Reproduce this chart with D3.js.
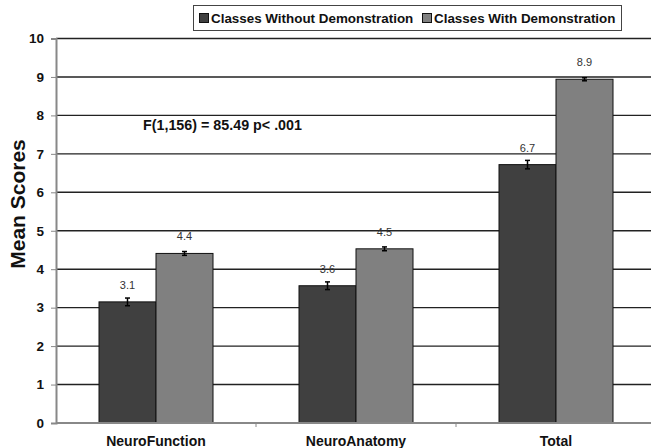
<!DOCTYPE html>
<html>
  <head>
  <title>Mean Scores</title>
  <style>
    body, html {
      margin: 0;
      padding: 0;
      background: #fff;
    }
    text {
      font-family: "Liberation Sans", Arial, sans-serif;
    }
  </style>
  </head>
  <body>

  <svg id="svg" width="651" height="448"></svg>
  <script src="https://d3js.org/d3.v7.min.js"></script>
  <script>
      const categories = ['NeuroFunction', 'NeuroAnatomy', 'Total']
      const seriesNames = ['Classes Without Demonstration', 'Classes With Demonstration']
      const withoutDemo = [3.15, 3.57, 6.72]
      const withDemo = [4.41, 4.53, 8.94]
      const withoutErr = [0.1, 0.1, 0.11]
      const withDemoErr = [0.05, 0.05, 0.04]
      const valueLabels = [['3.1', '3.6', '6.7'], ['4.4', '4.5', '8.9']]
      const yTicks = [0, 1, 2, 3, 4, 5, 6, 7, 8, 9, 10]
      const statText = 'F(1,156) = 85.49 p< .001'

      const colors = ['#404040', '#808080']
      const values = [withoutDemo, withDemo]
      const errs = [withoutErr, withDemoErr]

      const plotLeft = 56, plotRight = 656, plotTop = 38.5, plotBottom = 423

      const svg = d3.select('#svg')

      const y = d3.scaleLinear().domain([0, 10]).range([plotBottom, plotTop])
      const x0 = d3.scaleBand().domain(categories).range([plotLeft, plotRight])
      const bw = x0.bandwidth()
      const x1 = d3.scaleBand().domain(seriesNames).range([bw * 0.215, bw * 0.785])

      // gridlines
      svg.append('g')
          .selectAll('line')
          .data(yTicks.filter(d => d > 0))
          .join('line')
          .attr('x1', plotLeft)
          .attr('x2', 651)
          .attr('y1', d => y(d))
          .attr('y2', d => y(d))
          .attr('stroke', '#222')
          .attr('stroke-width', 1.4)

      // y axis
      const yAxis = svg.append('g')
          .attr('transform', `translate(${plotLeft},0)`)
          .call(d3.axisLeft(y).tickValues(yTicks).tickSize(5).tickPadding(7))
      yAxis.select('.domain').attr('stroke', '#888').attr('stroke-width', 2)
      yAxis.selectAll('.tick line').attr('stroke', '#888')
      yAxis.selectAll('text')
          .attr('font-size', 13.5)
          .attr('font-weight', 'bold')
          .attr('fill', '#111')
          .style('font-family', '"Liberation Sans", Arial, sans-serif')

      // bars
      const groups = svg.append('g')
          .selectAll('g')
          .data(categories)
          .join('g')
          .attr('transform', d => `translate(${x0(d)},0)`)

      seriesNames.forEach((s, si) => {
        groups.append('rect')
            .attr('x', x1(s))
            .attr('width', x1.bandwidth())
            .attr('y', (d, i) => y(values[si][i]))
            .attr('height', (d, i) => y(0) - y(values[si][i]))
            .attr('fill', colors[si])
            .attr('stroke', '#111')
            .attr('stroke-width', 1)

        const cx = x1(s) + x1.bandwidth() / 2
        groups.append('line')
            .attr('x1', cx).attr('x2', cx)
            .attr('y1', (d, i) => y(values[si][i] - errs[si][i]))
            .attr('y2', (d, i) => y(values[si][i] + errs[si][i]))
            .attr('stroke', '#000')
            .attr('stroke-width', 1.5)
        ;[-1, 1].forEach(sign => {
          groups.append('line')
              .attr('x1', cx - 2.5).attr('x2', cx + 2.5)
              .attr('y1', (d, i) => y(values[si][i] + sign * errs[si][i]))
              .attr('y2', (d, i) => y(values[si][i] + sign * errs[si][i]))
              .attr('stroke', '#000')
              .attr('stroke-width', 1.5)
        })

        groups.append('text')
            .attr('x', cx)
            .attr('y', (d, i) => y(values[si][i]) - 13)
            .attr('text-anchor', 'middle')
            .attr('font-size', 11)
            .attr('fill', '#333')
            .text((d, i) => valueLabels[si][i])
      })

      // x axis
      const xAxis = svg.append('g')
          .attr('transform', `translate(0,${plotBottom})`)
      xAxis.append('line')
          .attr('x1', plotLeft).attr('x2', 651)
          .attr('stroke', '#888').attr('stroke-width', 2)
      xAxis.selectAll('.tk')
          .data(categories.slice(1))
          .join('line')
          .attr('x1', d => x0(d)).attr('x2', d => x0(d))
          .attr('y1', 0).attr('y2', 4)
          .attr('stroke', '#888')
      xAxis.selectAll('text')
          .data(categories)
          .join('text')
          .attr('x', d => x0(d) + bw / 2)
          .attr('y', 23)
          .attr('text-anchor', 'middle')
          .attr('font-size', 14)
          .attr('font-weight', 'bold')
          .attr('fill', '#111')
          .text(d => d)

      // y title
      svg.append('text')
          .attr('transform', 'translate(25,204) rotate(-90)')
          .attr('text-anchor', 'middle')
          .attr('font-size', 21)
          .attr('font-weight', 'bold')
          .attr('fill', '#111')
          .text('Mean Scores')

      // stat annotation
      svg.append('text')
          .attr('x', 143)
          .attr('y', 130)
          .attr('font-size', 14.3)
          .attr('font-weight', 'bold')
          .attr('fill', '#111')
          .text(statText)

      // legend
      const legend = svg.append('g')
      legend.append('rect')
          .attr('x', 193.5).attr('y', 5.5)
          .attr('width', 428).attr('height', 25)
          .attr('fill', '#fff')
          .attr('stroke', '#444')
      const legX = [199, 422]
      seriesNames.forEach((s, i) => {
        legend.append('rect')
            .attr('x', legX[i] + 0.5).attr('y', 13.5)
            .attr('width', 9).attr('height', 9)
            .attr('fill', colors[i])
            .attr('stroke', '#111')
        legend.append('text')
            .attr('x', legX[i] + 12)
            .attr('y', 23)
            .attr('font-size', 13.4)
            .attr('font-weight', 'bold')
            .attr('fill', '#111')
            .text(s)
      })
  </script>
</body>
</html>
